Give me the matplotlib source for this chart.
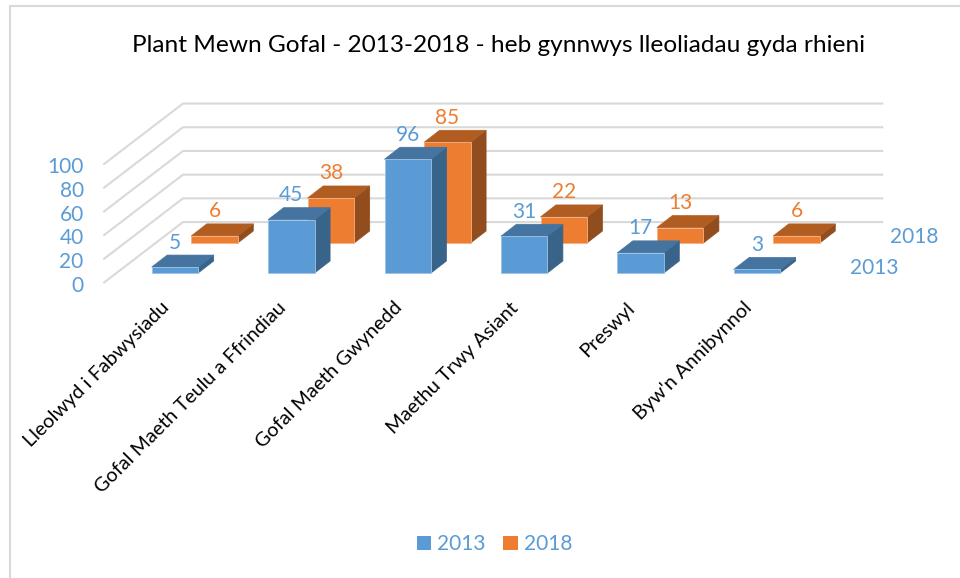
import matplotlib
matplotlib.use('Agg')
import matplotlib.pyplot as plt
from matplotlib.patches import Polygon, Patch

plt.rcParams['font.family'] = ['Lato', 'DejaVu Sans']

categories = ['Lleolwyd i Fabwysiadu', 'Gofal Maeth Teulu a Ffrindiau', 'Gofal Maeth Gwynedd',
              'Maethu Trwy Asiant', 'Preswyl', "Byw'n Annibynnol"]
values_2013 = [5, 45, 96, 31, 17, 3]
values_2018 = [6, 38, 85, 22, 13, 6]
value_ticks = [0, 20, 40, 60, 80, 100]
series_names = ['2013', '2018']

BLUE = ('#5b9bd5', '#44749f', '#396489')
ORANGE = ('#ed7d31', '#b15d22', '#914d1d')
LABEL_BLUE = '#5b9bd5'
LABEL_ORANGE = '#ed7d31'

# px per unit of the axes: x = one category, y = one value
PX_X = 116.4
PX_Y = 1.185
BAR_W = 46.5 / PX_X
DEPTH_X = 15.5 / PX_X
DEPTH_Y = 12 / PX_Y
SHIFT_X = 39.6 / PX_X
SHIFT_Y = 30 / PX_Y


def draw_bar(ax, x, base, value, colors):
    x2 = x + BAR_W
    top = base + value
    ax.add_patch(Polygon([(x2, base), (x2 + DEPTH_X, base + DEPTH_Y), (x2 + DEPTH_X, top + DEPTH_Y), (x2, top)],
                         fc=colors[2], ec=colors[2], lw=0.5))
    ax.add_patch(Polygon([(x, top), (x2, top), (x2 + DEPTH_X, top + DEPTH_Y), (x + DEPTH_X, top + DEPTH_Y)],
                         fc=colors[1], ec=colors[1], lw=0.5))
    ax.add_patch(Polygon([(x, base), (x2, base), (x2, top), (x, top)],
                         fc=colors[0], ec='#9cc3e6' if colors is BLUE else '#f4b183', lw=0.6))


def draw_series(ax, values, shift, colors, label_color):
    for i, v in enumerate(values):
        x = i + shift * SHIFT_X
        base = shift * SHIFT_Y
        draw_bar(ax, x, base, v, colors)
        ax.text(x + BAR_W / 2, base + v + 24.5 / PX_Y, str(v), color=label_color, fontsize=15,
                ha='center', va='center')


fig = plt.figure(figsize=(9.6, 5.78), dpi=100)
ax = fig.add_axes([0, 0, 1, 1])
ax.set_xlim(-151.7 / PX_X, (960 - 151.7) / PX_X)
ax.set_ylim(-305 / PX_Y, 273 / PX_Y)
ax.axis('off')

# chart frame, only left and top show in the screenshot
fig.add_artist(plt.Line2D([10 / 960, 10 / 960, 1], [0, 1 - 5.5 / 578, 1 - 5.5 / 578],
                          color='#d9d9d9', lw=1.5, solid_joinstyle='miter'))

# back wall and side wall gridlines
for t in value_ticks:
    back = 43 + t
    ax.plot([-0.409, 0.269, 6.276], [back - 51, back, back], color='#d9d9d9', lw=1.5, zorder=1,
            solid_joinstyle='miter')

draw_series(ax, values_2018, 1, ORANGE, LABEL_ORANGE)
draw_series(ax, values_2013, 0, BLUE, LABEL_BLUE)

for t in value_ticks:
    ax.text(-68 / PX_X, t - 10.7, str(t), color=LABEL_BLUE, fontsize=15, ha='right', va='center')

for i, name in enumerate(categories):
    ax.text(i + 9 / PX_X, -26 / PX_Y, name, color='black', fontsize=14.3, rotation=45,
            rotation_mode='anchor', ha='right', va='top')

# series axis labels
ax.text(874 / PX_X - 151.7 / PX_X, 5 / PX_Y, series_names[0], color=LABEL_BLUE, fontsize=15, ha='center', va='center')
ax.text(914 / PX_X - 151.7 / PX_X, 36 / PX_Y, series_names[1], color=LABEL_BLUE, fontsize=15, ha='center', va='center')

fig.text(499 / 960, 1 - 46 / 578, 'Plant Mewn Gofal - 2013-2018 - heb gynnwys lleoliadau gyda rhieni',
         color='black', fontsize=17.55, ha='center', va='center')

handles = [Patch(fc=BLUE[0], label=series_names[0]), Patch(fc=ORANGE[0], label=series_names[1])]
fig.legend(handles=handles, loc='center', bbox_to_anchor=(494.5 / 960, 1 - 544 / 578), ncol=2, frameon=False,
           fontsize=15, labelcolor=LABEL_BLUE, handlelength=0.68, handleheight=0.68, handletextpad=0.3,
           columnspacing=0.85)

fig.savefig('out.png', dpi=100)
